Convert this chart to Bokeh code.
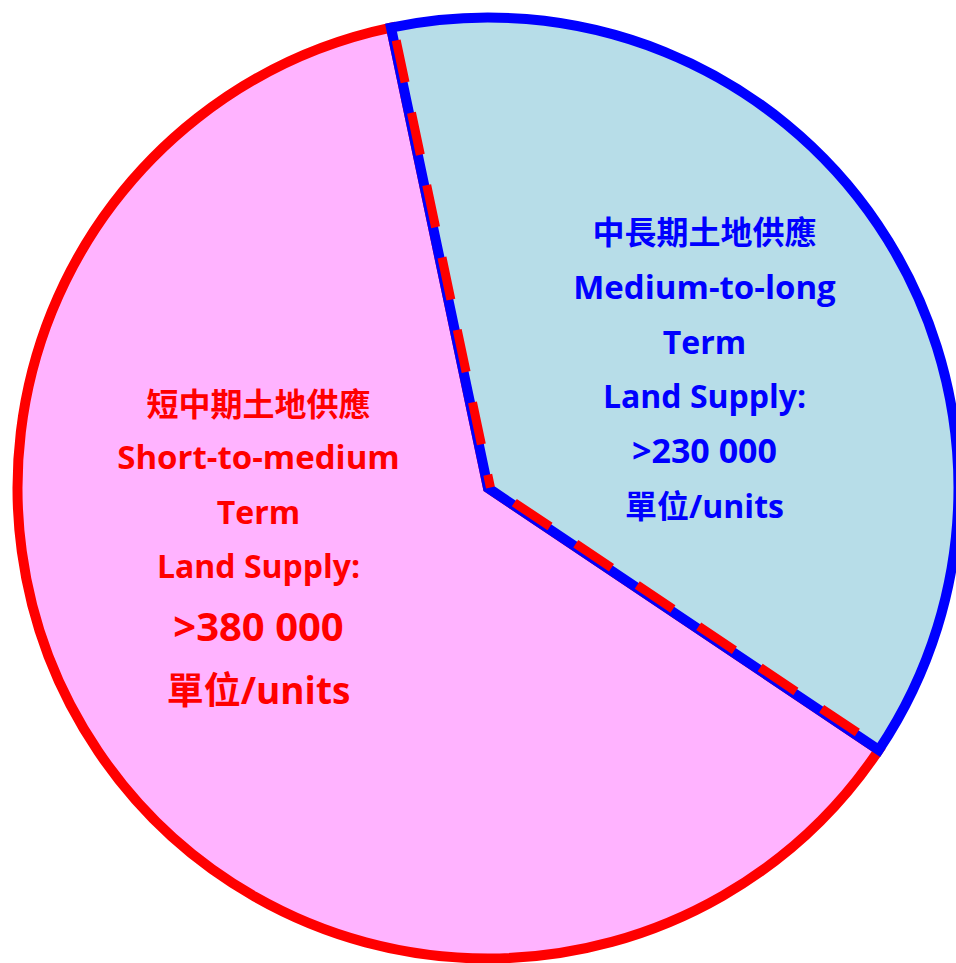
import numpy as np
from bokeh.plotting import figure
from bokeh.models import Range1d
from bokeh.core.properties import value
from bokeh.embed import file_html
from bokeh.resources import INLINE

# ---------------- data ----------------
categories_zh = ["短中期土地供應", "中長期土地供應"]
categories_en = ["Short-to-medium", "Medium-to-long"]
supply_values = [380000, 230000]
term_line = "Term"
land_line = "Land Supply:"
unit_line = "單位/units"

# ---------------- styles ----------------
fill_colors = ["#FFB3FF", "#B7DDE8"]
line_colors = ["#FF0000", "#0000FF"]
text_colors = ["#FF0000", "#0000FF"]
FONT = value("Open Sans, Noto Sans CJK TC")

W, H = 956, 963
R = 470.5          # pie radius (pixels = data units)
LW = 10
TOP_EDGE = np.deg2rad(101.9)   # rotation of the pie
CX, CY = 487.5, 487.5          # pie centre inside the canvas (px from left / top)
DASH_SHIFT = 2.5               # red dashes sit slightly inside the blue slice

p = figure(width=W, height=H, output_backend="svg", toolbar_location=None,
           x_range=Range1d(-CX, W - CX), y_range=Range1d(-(H - CY), CY),
           x_axis_type=None, y_axis_type=None, min_border=0)
p.outline_line_color = None
p.background_fill_color = "white"
p.border_fill_color = "white"
p.grid.visible = False

total = float(sum(supply_values))
frac = [v / total for v in supply_values]
blue_span = 2 * np.pi * frac[1]
pink_span = 2 * np.pi * frac[0]

# pink slice (short-to-medium) counterclockwise from top edge
p.wedge(x=0, y=0, radius=R, start_angle=TOP_EDGE, end_angle=TOP_EDGE + pink_span,
        fill_color=fill_colors[0], line_color=line_colors[0], line_width=LW,
        line_join="miter")
# blue slice (medium-to-long)
p.wedge(x=0, y=0, radius=R, start_angle=TOP_EDGE - blue_span, end_angle=TOP_EDGE,
        fill_color=fill_colors[1], line_color=line_colors[1], line_width=LW,
        line_join="miter")

# red dashed lines along the two boundaries
a_up = TOP_EDGE
a_lo = TOP_EDGE - blue_span
p.ray(x=[DASH_SHIFT * np.cos(a_up - np.pi / 2)], y=[DASH_SHIFT * np.sin(a_up - np.pi / 2)],
      length=R, angle=a_up, line_color=line_colors[0],
      line_width=9, line_dash="43 31", line_dash_offset=30)
p.ray(x=[DASH_SHIFT * np.cos(a_lo + np.pi / 2)], y=[DASH_SHIFT * np.sin(a_lo + np.pi / 2)],
      length=R, angle=a_lo, line_color=line_colors[0],
      line_width=9, line_dash="43 31", line_dash_offset=44)

# ---------------- labels ----------------
def fmt(v):
    return ">" + f"{v:,}".replace(",", " ")

label_x = [-229.5, 216.5]   # centres relative to pie centre
# baselines (px from top) for each line
red_baselines = [415, 468, 523, 577, 640, 703]
blue_baselines = [243, 298, 353, 407, 462, 517]
red_sizes = [32, 33, 32, 32, 40, 37]
blue_sizes = [32, 33, 32, 32, 34, 32]
BASE_FIX = 0.375   # svg baseline correction (fraction of font size)

for i, (bases, sizes) in enumerate([(red_baselines, red_sizes), (blue_baselines, blue_sizes)]):
    lines = [categories_zh[i], categories_en[i], term_line, land_line,
             fmt(supply_values[i]), unit_line]
    for txt, b, s in zip(lines, bases, sizes):
        p.text(x=[label_x[i]], y=[CY - (b - BASE_FIX * s)], text=[txt], text_font=FONT,
               text_font_size=value(f"{s}px"), text_font_style="bold",
               text_color=text_colors[i], text_align="center",
               text_baseline="alphabetic")

open("out.html", "w").write(file_html(p, INLINE))
